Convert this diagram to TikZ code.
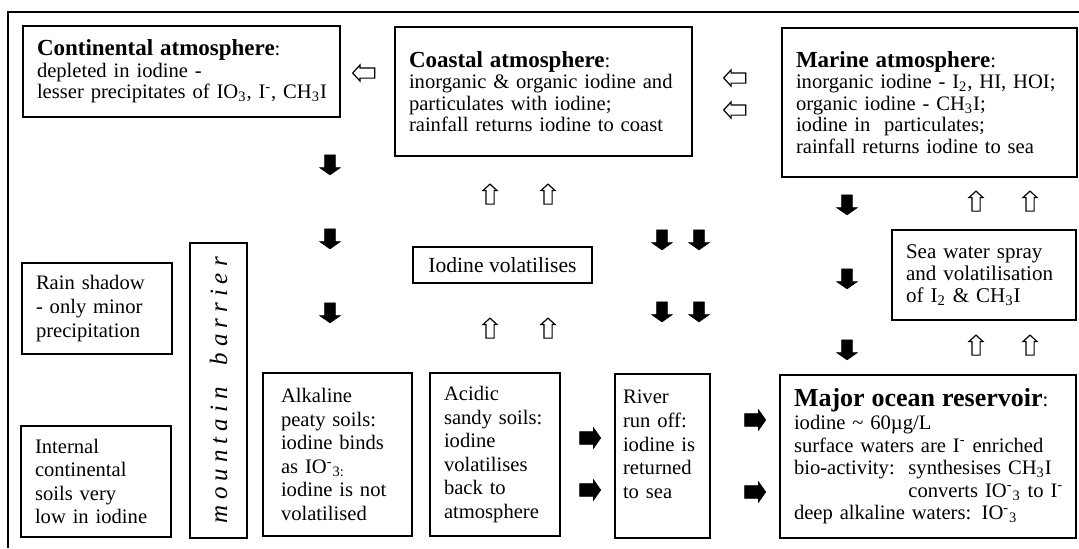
\documentclass[tikz,border=0pt]{standalone}
\usepackage{fontspec}
\setmainfont{Liberation Serif}
\usetikzlibrary{shapes.arrows}

\tikzset{
  box/.style={draw, line width=0.8pt, align=left, inner xsep=7pt, inner ysep=2pt,
    font=\fontsize{10.3}{11.8}\selectfont},
  atmbox/.style={box, font=\fontsize{10.3}{10.7}\selectfont},
  fdown/.style={single arrow, draw=black, fill=black, line width=0.3pt, inner sep=2.5pt,
    shape border rotate=270, minimum height=10pt, minimum width=10pt,
    single arrow head extend=2.5pt, single arrow tip angle=110},
  fright/.style={fdown, shape border rotate=0, minimum height=10.5pt, inner sep=3pt,
    single arrow head extend=2pt},
  hup/.style={single arrow, draw=black, fill=white, line width=0.6pt, inner sep=1.75pt,
    shape border rotate=90, minimum height=10pt, minimum width=6.5pt,
    single arrow head extend=1.5pt, single arrow tip angle=95},
  hleft/.style={hup, shape border rotate=180, inner sep=2.25pt, minimum height=11pt, minimum width=7.5pt}
}
\newcommand{\headtxt}[1]{{\fontsize{11.5}{11.5}\selectfont\bfseries #1}}

\begin{document}
\begin{tikzpicture}[x=0.5pt,y=-0.5pt]
\useasboundingbox (0,0) rectangle (1079,548);
\draw[line width=1pt] (8,548) -- (8,12) -- (1079,12);

% atmosphere
\node[atmbox, minimum width=158.5pt, minimum height=45.5pt, text width=144.5pt] (cont) at (181.5,71.5)
  {\headtxt{Continental atmosphere}:\\ depleted in iodine -\\
   \mbox{lesser precipitates of IO\textsubscript{3}, I\textsuperscript{-}, CH\textsubscript{3}I}};
\node[atmbox, minimum width=148.5pt, minimum height=64.5pt, text width=134.5pt] (coast) at (543.5,91.5)
  {\headtxt{Coastal atmosphere}:\\ \mbox{inorganic \& organic iodine and}\\
   particulates with iodine;\\ \mbox{rainfall returns iodine to coast}};
\node[atmbox, minimum width=147.5pt, minimum height=74.5pt, text width=133.5pt] (marine) at (929.5,102.5)
  {\headtxt{Marine atmosphere}:\\ \mbox{inorganic iodine - I\textsubscript{2}, HI, HOI;}\\
   organic iodine - CH\textsubscript{3}I;\\ iodine in\ \ particulates;\\ \mbox{rainfall returns iodine to sea}};

% middle row
\node[box, align=center, minimum width=89.5pt, minimum height=18pt, font=\fontsize{10.8}{12}\selectfont]
  (volat) at (502.5,265) {Iodine volatilises};
\node[box, minimum width=92pt, minimum height=45pt, text width=78pt, font=\fontsize{10.5}{11}\selectfont]
  (spray) at (984,275) {Sea water spray\\ and volatilisation\\ of I\textsubscript{2} \& CH\textsubscript{3}I};
\node[box, minimum width=75pt, minimum height=45.5pt, text width=61pt] (rain) at (97,308.5)
  {Rain shadow\\ - only minor\\ precipitation};
\node[box, rotate=90, align=center, minimum width=145.5pt, minimum height=28.5pt,
  font=\fontsize{12.5}{12.5}\selectfont\itshape] (mount) at (218.5,390.5)
  {{\spaceskip=3pt\relax m o u n t a i n\hspace{8pt} b a r r i e r}};

% soils and sea
\node[box, minimum width=75pt, minimum height=55.5pt, text width=61pt] (internal) at (96,481.5)
  {Internal\\ continental\\ soils very\\ low in iodine};
\node[box, inner xsep=9pt, minimum width=74.5pt, minimum height=81.5pt, text width=56.5pt] (alkaline) at (337.5,454.5)
  {Alkaline\\ peaty soils:\\ iodine binds\\ as IO\textsuperscript{-}\textsubscript{3:}\\ iodine is not\\ volatilised};
\node[box, minimum width=65pt, minimum height=81.5pt, text width=51pt] (acidic) at (495,454.5)
  {Acidic\\ sandy soils:\\ iodine\\ volatilises\\ back to\\ atmosphere};
\node[box, inner xsep=4pt, minimum width=47.5pt, minimum height=82pt, text width=39.5pt] (river) at (662.5,456)
  {River\\ run off:\\ iodine is\\ returned\\ to sea\\ \mbox{}};
\node[box, font=\fontsize{10.3}{11.3}\selectfont, minimum width=148pt, minimum height=81.5pt, text width=134pt]
  (ocean) at (928,456.5)
  {{\fontsize{13}{13}\selectfont\bfseries Major ocean reservoir}:\\
   iodine \textasciitilde{} 60µg/L\\
   surface waters are I\textsuperscript{-} enriched\\
   bio-activity:\ \ synthesises CH\textsubscript{3}I\\
   \mbox{\phantom{bio-activity:\ \ }converts IO\textsuperscript{-}\textsubscript{3} to I\textsuperscript{-}}\\
   deep alkaline waters: IO\textsuperscript{-}\textsubscript{3}};

% hollow arrows
\node[hleft] (lf1) at (366,73) {};
\node[hleft] (lf2) at (737,78) {};
\node[hleft] (lf3) at (737,110) {};
\node[hup] (upm1) at (490,196) {};
\node[hup] (upm2) at (548,196) {};
\node[hup] (upm3) at (490,330) {};
\node[hup] (upm4) at (548,330) {};
\node[hup] (upr1) at (976,203) {};
\node[hup] (upr2) at (1030,203) {};
\node[hup] (upr3) at (976,347) {};
\node[hup] (upr4) at (1030,347) {};

% filled arrows
\node[fdown] (dnl1) at (330,163) {};
\node[fdown] (dnl2) at (330,237) {};
\node[fdown] (dnl3) at (330,311) {};
\node[fdown] (dnm1) at (662,238) {};
\node[fdown] (dnm2) at (699,238) {};
\node[fdown] (dnm3) at (662,310) {};
\node[fdown] (dnm4) at (699,310) {};
\node[fdown] (dnr1) at (847,203) {};
\node[fdown] (dnr2) at (847,277) {};
\node[fdown] (dnr3) at (847,348) {};
\node[fright] (rt1) at (588,438) {};
\node[fright] (rt2) at (588,490) {};
\node[fright] (rt3) at (753,420) {};
\node[fright] (rt4) at (753,492) {};
\end{tikzpicture}
\end{document}
